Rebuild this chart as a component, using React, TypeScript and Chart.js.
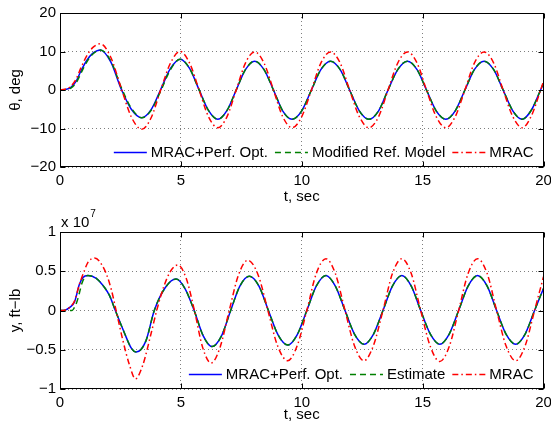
import React, { useEffect, useRef } from "react";
import { Chart, registerables } from "chart.js";

Chart.register(...registerables);

const FONT = '"Liberation Sans", Arial, Helvetica, sans-serif';

// ---------- Top panel: theta, deg ----------
const thetaT = [0, 0.2, 0.45, 0.67, 0.87, 1.1, 1.35, 1.67, 2.1, 2.53, 2.95, 3.38, 3.77, 4.17, 4.57, 4.97, 5.36, 5.75, 6.14, 6.53, 6.91, 7.29, 7.67, 8.05, 8.44, 8.83, 9.21, 9.6, 10.0, 10.4, 10.79, 11.19, 11.59, 11.98, 12.38, 12.78, 13.18, 13.57, 13.97, 14.37, 14.77, 15.16, 15.56, 15.96, 16.35, 16.75, 17.14, 17.54, 17.94, 18.33, 18.73, 19.12, 19.5, 19.88, 20];
const thetaOpt = [0, 0.1, 0.7, 2.3, 5.0, 7.6, 9.5, 10.4, 7.3, 0.3, -5.0, -7.2, -5.1, 0.2, 5.6, 8.0, 5.6, 0.1, -5.3, -7.6, -5.3, 0, 5.3, 7.5, 5.3, 0, -5.4, -7.6, -5.4, 0, 5.3, 7.5, 5.3, 0, -5.4, -7.6, -5.4, 0, 5.3, 7.5, 5.3, 0, -5.4, -7.6, -5.4, 0, 5.3, 7.5, 5.3, 0, -5.4, -7.6, -5.2, 0, 1.7];
const thetaRef = [0, 0.05, 0.5, 1.9, 4.4, 7.2, 9.3, 10.4, 7.6, 0.7, -4.7, -7.2, -5.3, -0.2, 5.3, 8.0, 5.6, 0.1, -5.3, -7.6, -5.3, 0, 5.3, 7.5, 5.3, 0, -5.4, -7.6, -5.4, 0, 5.3, 7.5, 5.3, 0, -5.4, -7.6, -5.4, 0, 5.3, 7.5, 5.3, 0, -5.4, -7.6, -5.4, 0, 5.3, 7.5, 5.3, 0, -5.4, -7.6, -5.2, 0, 1.7];
const thetaMrac = [0, 0.2, 1.0, 2.9, 5.8, 8.8, 11.0, 12.0, 8.5, 0.5, -7.0, -10.2, -7.2, 0.1, 7.0, 10.0, 7.0, 0.1, -6.9, -9.8, -6.9, 0, 7.0, 9.9, 7.0, 0, -6.9, -9.8, -6.9, 0, 7.0, 9.9, 7.0, 0, -6.9, -9.8, -6.9, 0, 7.0, 9.9, 7.0, 0, -6.9, -9.8, -6.9, 0, 7.0, 9.9, 7.0, 0, -6.9, -9.8, -6.7, 0, 2.3];
const thetaLabels = ["MRAC+Perf. Opt.", "Modified Ref. Model", "MRAC"];
const thetaTicks = [-20, -10, 0, 10, 20];

// ---------- Bottom panel: y, ft-lb (x 10^7) ----------
const yT = [0, 0.2, 0.4, 0.6, 0.8, 0.95, 1.15, 1.5, 1.85, 2.05, 2.29, 2.67, 2.95, 3.15, 3.55, 3.9, 4.35, 4.8, 5.17, 5.55, 5.92, 6.29, 6.67, 7.06, 7.44, 7.83, 8.23, 8.62, 9.02, 9.42, 9.81, 10.21, 10.6, 11.0, 11.39, 11.79, 12.18, 12.58, 12.97, 13.36, 13.75, 14.14, 14.53, 14.92, 15.32, 15.71, 16.1, 16.49, 16.88, 17.27, 17.67, 18.06, 18.45, 18.85, 19.24, 19.63, 20];
const yOpt = [0, 0.005, 0.04, 0.11, 0.33, 0.42, 0.445, 0.41, 0.29, 0.19, 0, -0.29, -0.48, -0.53, -0.39, 0, 0.29, 0.40, 0.28, 0, -0.32, -0.46, -0.33, 0, 0.31, 0.435, 0.31, 0, -0.31, -0.44, -0.31, 0, 0.31, 0.445, 0.31, 0, -0.30, -0.43, -0.30, 0, 0.31, 0.445, 0.31, 0, -0.30, -0.43, -0.30, 0, 0.31, 0.445, 0.31, 0, -0.30, -0.43, -0.30, 0, 0.28];
const yEstT = [0, 0.5, 0.6, 0.7, 0.8, 0.9, 1.0, 1.15, 1.5, 1.85, 2.05, 2.29, 2.67, 2.95, 3.15, 3.55, 3.9, 4.35, 4.8, 5.17, 5.55, 5.92, 6.29, 6.67, 7.06, 7.44, 7.83, 8.23, 8.62, 9.02, 9.42, 9.81, 10.21, 10.6, 11.0, 11.39, 11.79, 12.18, 12.58, 12.97, 13.36, 13.75, 14.14, 14.53, 14.92, 15.32, 15.71, 16.1, 16.49, 16.88, 17.27, 17.67, 18.06, 18.45, 18.85, 19.24, 19.63, 20];
const yEst = [0, 0, 0.04, 0.11, 0.22, 0.34, 0.41, 0.445, 0.41, 0.29, 0.19, 0, -0.29, -0.48, -0.53, -0.39, 0, 0.29, 0.40, 0.28, 0, -0.32, -0.46, -0.33, 0, 0.31, 0.435, 0.31, 0, -0.31, -0.44, -0.31, 0, 0.31, 0.445, 0.31, 0, -0.30, -0.43, -0.30, 0, 0.31, 0.445, 0.31, 0, -0.30, -0.43, -0.30, 0, 0.31, 0.445, 0.31, 0, -0.30, -0.43, -0.30, 0, 0.28];
const yMracT = [0, 0.2, 0.4, 0.6, 0.8, 1.0, 1.15, 1.43, 1.84, 2.12, 2.32, 2.6, 2.88, 3.12, 3.42, 3.77, 4.0, 4.3, 4.57, 4.87, 5.22, 5.56, 5.9, 6.25, 6.62, 7.0, 7.38, 7.77, 8.2, 8.6, 9.0, 9.42, 9.81, 10.21, 10.6, 11.0, 11.39, 11.79, 12.18, 12.57, 12.96, 13.36, 13.75, 14.14, 14.53, 14.92, 15.32, 15.71, 16.1, 16.49, 16.88, 17.27, 17.67, 18.06, 18.45, 18.85, 19.24, 19.63, 20];
const yMrac = [0, 0.005, 0.04, 0.12, 0.33, 0.5, 0.61, 0.67, 0.52, 0.27, 0, -0.38, -0.70, -0.87, -0.70, -0.29, 0, 0.31, 0.5, 0.58, 0.41, 0, -0.47, -0.67, -0.47, 0, 0.45, 0.64, 0.45, 0, -0.45, -0.64, -0.45, 0, 0.47, 0.66, 0.47, 0, -0.45, -0.64, -0.45, 0, 0.47, 0.66, 0.47, 0, -0.46, -0.65, -0.46, 0, 0.47, 0.66, 0.47, 0, -0.45, -0.64, -0.45, 0, 0.43];
const yLabels = ["MRAC+Perf. Opt.", "Estimate", "MRAC"];
const yTicks = [-1, -0.5, 0, 0.5, 1];

const tTicks = [0, 5, 10, 15, 20];

const pts = (t: number[], v: number[]) => t.map((x, i) => ({ x, y: v[i] }));
const fmt = (v: number) => String(v).replace("-", "\u2212");

type PanelOpts = {
  height: number;
  padTop: number;
  xAxisHeight: number;
  yMin: number;
  yMax: number;
  yStep: number;
  yTickVals: number[];
  yTitle: string;
  xTitleBaseline: number;
  exponent?: boolean;
};

function decorPlugin(p: PanelOpts) {
  return {
    id: "matlabDecor",
    afterDraw(chart: any) {
      const ctx: CanvasRenderingContext2D = chart.ctx;
      const a = chart.chartArea;
      const xs = chart.scales.x;
      const ys = chart.scales.y;
      ctx.save();
      // legend (horizontal, inside lower right, no box)
      ctx.font = `15px ${FONT}`;
      ctx.textBaseline = "middle";
      ctx.textAlign = "left";
      const ds = chart.data.datasets;
      const lineLen = 33, gapLT = 4, gapTL = 7;
      const widths = ds.map((d: any) => ctx.measureText(d.label).width);
      let total = 0;
      widths.forEach((w: number) => (total += lineLen + gapLT + w));
      total += gapTL * (ds.length - 1);
      let x = a.right - 10 - total;
      const cy = a.bottom - 15.5;
      ds.forEach((d: any, i: number) => {
        ctx.save();
        ctx.strokeStyle = d.borderColor;
        ctx.lineWidth = 1.3;
        ctx.setLineDash(d.borderDash || []);
        ctx.beginPath();
        ctx.moveTo(x, Math.round(cy) + 0.5);
        ctx.lineTo(x + lineLen, Math.round(cy) + 0.5);
        ctx.stroke();
        ctx.restore();
        ctx.fillStyle = "#000";
        ctx.fillText(d.label, x + lineLen + gapLT, cy + 1);
        x += lineLen + gapLT + widths[i] + gapTL;
      });
      // box
      ctx.strokeStyle = "#000";
      ctx.lineWidth = 1;
      ctx.setLineDash([]);
      const L = Math.round(a.left) + 0.5, R = Math.round(a.right) - 0.5;
      const T = Math.round(a.top) + 0.5, B = Math.round(a.bottom) - 0.5;
      ctx.strokeRect(L, T, R - L, B - T);
      // inward ticks
      ctx.beginPath();
      tTicks.forEach((v) => {
        const px = Math.round(xs.getPixelForValue(v)) + 0.5;
        ctx.moveTo(px, B); ctx.lineTo(px, B - 5);
        ctx.moveTo(px, T); ctx.lineTo(px, T + 5);
      });
      p.yTickVals.forEach((v) => {
        const py = Math.round(ys.getPixelForValue(v)) + 0.5;
        ctx.moveTo(L, py); ctx.lineTo(L + 5, py);
        ctx.moveTo(R, py); ctx.lineTo(R - 5, py);
      });
      ctx.stroke();
      // axis titles
      ctx.fillStyle = "#000";
      ctx.font = `15px ${FONT}`;
      ctx.textBaseline = "alphabetic";
      ctx.textAlign = "center";
      ctx.fillText("t, sec", (a.left + a.right) / 2, p.xTitleBaseline);
      ctx.save();
      ctx.translate(20, (a.top + a.bottom) / 2);
      ctx.rotate(-Math.PI / 2);
      ctx.fillText(p.yTitle, 0, 0);
      ctx.restore();
      if (p.exponent) {
        ctx.textAlign = "left";
        ctx.font = `15px ${FONT}`;
        ctx.fillText("x 10", 61, 21);
        const w = ctx.measureText("x 10").width;
        ctx.font = `10px ${FONT}`;
        ctx.fillText("7", 61 + w + 1, 11);
      }
      ctx.restore();
    },
  };
}

function buildConfig(p: PanelOpts, datasets: any[]) {
  return {
    type: "line" as const,
    data: { datasets },
    options: {
      responsive: false,
      animation: false,
      devicePixelRatio: 1,
      layout: { padding: { top: p.padTop, right: 0, left: 0, bottom: 0 } },
      elements: { point: { radius: 0 }, line: { borderWidth: 1.5, cubicInterpolationMode: "monotone" } },
      plugins: { legend: { display: false }, tooltip: { enabled: false } },
      scales: {
        x: {
          type: "linear",
          min: 0,
          max: 20,
          ticks: { stepSize: 5, color: "#000", font: { family: FONT, size: 15 }, padding: 5, maxRotation: 0 },
          grid: { color: "rgba(0,0,0,0.5)", lineWidth: 1, drawTicks: false },
          border: { display: false, dash: [1, 3] },
          afterFit: (s: any) => { s.height = p.xAxisHeight; s.paddingRight = 7.5; s.paddingLeft = 0; },
        },
        y: {
          type: "linear",
          min: p.yMin,
          max: p.yMax,
          ticks: { stepSize: p.yStep, color: "#000", font: { family: FONT, size: 15 }, padding: 4, callback: (v: any) => fmt(Number(v)) },
          grid: { color: "rgba(0,0,0,0.5)", lineWidth: 1, drawTicks: false },
          border: { display: false, dash: [1, 3] },
          afterFit: (s: any) => { s.width = 60; },
        },
      },
    },
    plugins: [decorPlugin(p)],
  };
}

const series = (label: string, data: any[], color: string, dash: number[], order: number) => ({
  label,
  data,
  borderColor: color,
  backgroundColor: color,
  borderDash: dash,
  borderWidth: 1.5,
  fill: false,
  order,
});

export default function App() {
  const topRef = useRef<HTMLCanvasElement | null>(null);
  const botRef = useRef<HTMLCanvasElement | null>(null);

  useEffect(() => {
    document.body.style.margin = "0";
    const topOpts: PanelOpts = {
      height: 206, padTop: 10, xAxisHeight: 39, yMin: -20, yMax: 20, yStep: 10,
      yTickVals: thetaTicks, yTitle: "\u03b8, deg", xTitleBaseline: 201,
    };
    const botOpts: PanelOpts = {
      height: 225, padTop: 26, xAxisHeight: 42, yMin: -1, yMax: 1, yStep: 0.5,
      yTickVals: yTicks, yTitle: "y, ft\u2212lb", xTitleBaseline: 213, exponent: true,
    };
    const top = new Chart(topRef.current as HTMLCanvasElement, buildConfig(topOpts, [
      series(thetaLabels[0], pts(thetaT, thetaOpt), "#0000ff", [], 3),
      series(thetaLabels[1], pts(thetaT, thetaRef), "#008000", [6, 4], 2),
      series(thetaLabels[2], pts(thetaT, thetaMrac), "#ff0000", [6, 3, 1.5, 3], 1),
    ]) as any);
    const bot = new Chart(botRef.current as HTMLCanvasElement, buildConfig(botOpts, [
      series(yLabels[0], pts(yT, yOpt), "#0000ff", [], 3),
      series(yLabels[1], pts(yEstT, yEst), "#008000", [6, 4], 2),
      series(yLabels[2], pts(yMracT, yMrac), "#ff0000", [6, 3, 1.5, 3], 1),
    ]) as any);
    return () => {
      top.destroy();
      bot.destroy();
    };
  }, []);

  return (
    <div style={{ position: "fixed", left: 0, top: 0, width: 551, height: 431, background: "#fff" }}>
      <canvas ref={topRef} width={551} height={206} style={{ position: "absolute", left: 0, top: 0, width: 551, height: 206 }} />
      <canvas ref={botRef} width={551} height={225} style={{ position: "absolute", left: 0, top: 206, width: 551, height: 225 }} />
    </div>
  );
}
